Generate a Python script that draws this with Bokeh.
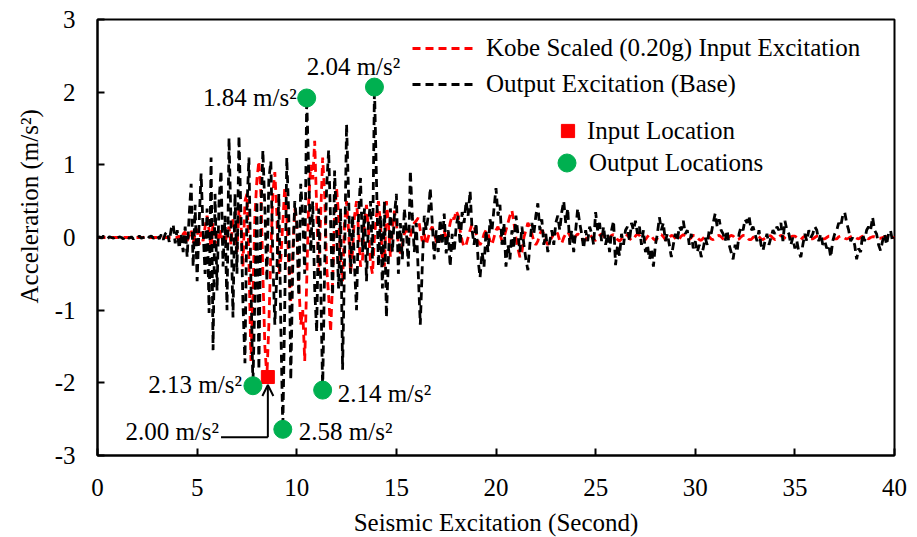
import numpy as np
from bokeh.plotting import figure
from bokeh.models import Range1d, Legend, LegendItem, Label, Arrow, OpenHead, FixedTicker, Title
from bokeh.embed import file_html
from bokeh.resources import INLINE

# ---------------- data ----------------
# time grid (seconds), 0.1 s step from 0 to 40
time_s = np.round(np.arange(401) * 0.1, 1)

# Output excitation (base), m/s^2
output_acc = [
    0.00, 0.01, -0.01, 0.02, 0.00, -0.02, 0.01, 0.00, -0.01, 0.02,
    -0.01, 0.01, 0.00, -0.02, 0.02, 0.00, -0.01, 0.01, -0.02, 0.01,
    0.00, 0.02, -0.01, 0.00, 0.01, -0.02, 0.01, 0.02, -0.01, 0.00,
    0.03, -0.02, 0.04, -0.03, 0.05, 0.08, -0.06, 0.12, 0.18, -0.08,
    0.10, -0.15, 0.05, -0.20, 0.15, -0.27, 0.30, 0.74, -0.40, 0.45,
    -0.60, 0.20, 0.88, 0.10, -0.50, 0.40, -1.04, 1.10, -1.55, 0.60,
    -0.73, 0.50, 0.92, -0.40, 0.30, -1.00, 1.37, 0.20, -1.10, 0.60,
    -0.50, 1.40, 0.30, -0.90, -1.73, 0.40, 1.10, -0.60, -2.04, -0.80,
    0.50, -1.82, 0.30, 1.20, 0.40, -0.60, 0.80, 1.05, -0.30, -1.20,
    -0.50, 0.60, -1.20, -2.64, -0.90, 1.10, 0.30, -1.96, -0.40, 0.50,
    0.20, -0.80, 0.74, 0.30, -0.50, 1.92, 0.90, -0.20, 0.50, -0.70,
    -1.30, 0.40, -0.60, -2.10, -0.40, 0.70, 1.20, 0.20, -0.80, 0.92,
    0.10, -0.70, 0.40, -1.82, -0.30, 1.56, 0.60, -0.50, 0.30, -0.40,
    -1.00, 0.30, 0.82, -0.20, 0.40, -0.60, 0.20, 0.50, -0.30, 2.07,
    0.80, -0.40, 0.30, -0.70, 0.50, -1.10, -0.30, 0.40, -0.20, 0.30,
    0.60, -0.50, 0.20, -0.30, 0.40, 0.10, -0.40, 0.92, 0.30, -0.20,
    0.20, -0.50, -1.20, -0.40, 0.30, 0.10, 0.30, 0.68, 0.20, -0.30,
    0.10, -0.20, 0.25, -0.10, 0.33, -0.22, 0.10, -0.40, 0.05, -0.20,
    0.15, 0.30, -0.10, 0.35, 0.20, 0.50, 0.30, 0.64, 0.10, -0.10,
    0.20, -0.30, -0.55, -0.20, -0.40, 0.10, -0.20, 0.25, 0.10, 0.40,
    0.68, 0.30, 0.45, -0.10, 0.20, -0.40, -0.10, -0.30, 0.10, -0.15,
    0.30, 0.05, -0.20, 0.15, -0.10, -0.30, -0.45, -0.10, 0.20, 0.05,
    0.30, 0.47, 0.10, 0.25, -0.10, 0.05, -0.20, -0.05, 0.10, -0.10,
    0.20, 0.30, 0.10, 0.35, 0.50, 0.20, 0.40, -0.10, 0.10, -0.20,
    0.10, 0.40, 0.20, 0.05, -0.15, 0.10, -0.05, 0.15, 0.05, -0.10,
    0.35, 0.10, 0.20, -0.05, 0.15, -0.10, 0.05, -0.20, 0.10, 0.23,
    -0.38, -0.10, -0.25, 0.05, -0.10, 0.10, 0.15, -0.05, 0.20, 0.10,
    0.23, 0.05, 0.15, -0.10, 0.10, -0.20, -0.10, -0.30, -0.15, -0.40,
    -0.10, 0.05, 0.28, 0.10, 0.20, -0.05, 0.05, -0.10, -0.27, -0.10,
    0.05, -0.05, 0.15, 0.10, 0.23, 0.05, 0.10, -0.10, 0.05, -0.15,
    -0.05, -0.20, -0.10, -0.27, -0.15, 0.00, -0.10, 0.10, 0.05, 0.20,
    0.33, 0.15, 0.25, 0.10, 0.05, -0.05, 0.10, -0.10, -0.20, -0.30,
    -0.10, -0.20, 0.05, 0.15, 0.10, 0.25, 0.20, 0.30, 0.10, 0.15,
    0.05, -0.05, 0.10, -0.10, -0.18, -0.05, 0.05, -0.10, 0.00, 0.10,
    0.05, 0.15, 0.10, 0.20, -0.05, 0.23, 0.10, 0.05, -0.10, 0.00,
    -0.15, -0.05, -0.20, -0.27, -0.10, 0.05, -0.05, 0.10, 0.00, 0.05,
    0.15, 0.10, -0.05, 0.05, -0.10, -0.05, -0.15, -0.10, -0.27, -0.05,
    0.05, 0.10, 0.20, 0.15, 0.30, 0.35, 0.20, 0.10, -0.05, 0.00,
    -0.10, -0.30, -0.15, -0.20, 0.05, -0.05, 0.10, 0.15, 0.10, 0.28,
    0.10, 0.05, -0.10, -0.18, -0.05, 0.05, -0.10, 0.05, 0.10, -0.05,
    0.00,
]

# Kobe scaled (0.20g) input excitation, m/s^2
input_acc = [
    0.00, 0.00, 0.00, 0.00, 0.00, 0.00, 0.00, 0.00, 0.00, 0.00,
    0.00, 0.00, 0.00, 0.00, 0.00, 0.00, 0.00, 0.00, 0.00, 0.00,
    0.00, 0.00, 0.00, 0.00, 0.00, 0.00, 0.00, 0.00, 0.00, 0.00,
    0.00, 0.00, 0.00, 0.00, 0.00, 0.00, 0.00, 0.00, 0.00, 0.00,
    0.00, 0.02, -0.03, 0.05, 0.08, -0.05, 0.03, 0.10, -0.08, 0.05,
    0.12, -0.10, 0.08, -0.05, 0.15, 0.30, 0.10, -0.15, 0.20, -0.10,
    0.05, -0.05, 0.10, -0.10, -0.08, 0.05, 0.15, -0.10, 0.25, 0.10,
    -0.20, 0.40, 0.20, -0.40, 0.50, 0.60, -0.30, -1.70, -0.80, 0.30,
    0.80, 1.05, 0.60, -0.50, -1.50, -1.92, -1.20, -0.20, 0.60, 0.90,
    0.33, -0.50, -0.30, 0.20, 0.70, 0.30, -0.40, -0.90, -0.20, 0.40,
    0.20, -0.60, -1.20, -1.00, -1.70, -0.60, 0.50, 1.00, 0.80, 1.33,
    0.40, -0.50, 0.30, 1.10, 0.60, -0.40, -0.80, -1.30, -0.60, 0.30,
    0.68, 0.30, -0.30, -0.60, 0.20, 0.50, 0.10, -0.50, -0.20, 0.30,
    0.50, 0.10, -0.40, -0.30, 0.20, 0.45, 0.10, -0.35, -0.50, 0.00,
    0.30, 0.50, 0.20, -0.30, -0.40, 0.50, 0.20, -0.27, 0.10, 0.37,
    0.20, -0.10, -0.22, -0.10, 0.05, 0.10, -0.08, 0.00, 0.15, 0.20,
    0.23, 0.27, 0.10, -0.05, 0.05, -0.10, 0.00, 0.10, 0.15, 0.05,
    -0.05, -0.10, 0.00, 0.05, 0.10, -0.05, 0.05, 0.20, 0.30, 0.25,
    0.37, 0.30, 0.10, -0.05, -0.13, -0.10, 0.00, 0.10, 0.19, 0.15,
    0.05, -0.05, -0.10, -0.05, 0.05, 0.10, 0.05, -0.05, -0.10, 0.00,
    0.10, 0.15, 0.05, -0.05, 0.00, 0.10, 0.20, 0.30, 0.37, 0.20,
    0.00, -0.15, -0.27, -0.20, 0.00, 0.10, 0.20, 0.15, 0.05, -0.05,
    -0.10, -0.05, 0.05, 0.10, 0.05, -0.05, -0.10, -0.05, 0.00, 0.05,
    0.10, 0.05, -0.05, -0.08, 0.00, 0.05, 0.08, 0.03, -0.05, -0.03,
    0.02, 0.05, 0.03, -0.02, -0.05, -0.03, 0.02, 0.04, 0.01, -0.03,
    -0.04, 0.00, 0.03, 0.05, 0.02, -0.02, -0.04, -0.01, 0.03, 0.04,
    0.01, -0.03, -0.05, -0.02, 0.02, 0.04, 0.03, -0.01, -0.04, -0.02,
    0.02, 0.05, 0.03, -0.02, -0.04, -0.03, 0.01, 0.04, 0.02, -0.02,
    -0.04, -0.01, 0.03, 0.04, 0.01, -0.03, -0.04, 0.00, 0.03, 0.02,
    -0.01, -0.04, -0.02, 0.02, 0.04, 0.02, -0.02, -0.03, 0.00, 0.03,
    0.03, 0.00, -0.03, -0.04, -0.01, 0.02, 0.04, 0.01, -0.02, -0.03,
    -0.01, 0.02, 0.03, 0.01, -0.02, -0.04, -0.02, 0.01, 0.03, 0.02,
    -0.01, -0.03, -0.02, 0.01, 0.03, 0.03, 0.00, -0.03, -0.03, 0.00,
    0.02, 0.03, 0.01, -0.02, -0.03, -0.01, 0.01, 0.03, 0.02, -0.01,
    -0.03, -0.02, 0.01, 0.03, 0.02, -0.01, -0.03, -0.02, 0.01, 0.02,
    0.02, 0.00, -0.02, -0.03, 0.00, 0.02, 0.03, 0.01, -0.02, -0.02,
    0.00, 0.02, 0.02, 0.00, -0.02, -0.02, 0.00, 0.02, 0.02, 0.00,
    -0.02, -0.02, 0.01, 0.02, 0.01, -0.01, -0.02, -0.01, 0.01, 0.02,
    0.01, -0.01, -0.02, 0.00, 0.02, 0.01, -0.01, -0.02, 0.00, 0.01,
    0.01, 0.00, -0.01, -0.01, 0.00, 0.01, 0.01, 0.00, -0.01, 0.00,
    0.00,
]

# marked peak locations
input_loc_x = [8.55]
input_loc_y = [-1.92]
input_loc_label = ["2.00 m/s²"]

output_loc_x = [10.5, 13.9, 7.8, 11.3, 9.3]
output_loc_y = [1.92, 2.07, -2.04, -2.10, -2.64]
output_loc_label = ["1.84 m/s²", "2.04 m/s²", "2.13 m/s²", "2.14 m/s²", "2.58 m/s²"]

x_ticks = [0, 5, 10, 15, 20, 25, 30, 35, 40]
y_ticks = [-3, -2, -1, 0, 1, 2, 3]

x_title = "Seismic Excitation (Second)"
y_title = "Acceleration (m/s²)"
legend_line_labels = ["Kobe Scaled (0.20g) Input Excitation", "Output Excitation (Base)"]
legend_marker_labels = ["Input Location", "Output Locations"]

# ---------------- styling ----------------
FONT = "Liberation Serif"
FS = "25px"
RED = "#FF0000"
GREEN = "#00B050"

p = figure(frame_width=797, frame_height=436, output_backend="svg",
           toolbar_location=None, x_range=Range1d(0, 40), y_range=Range1d(-3, 3),
           min_border_left=97, min_border_right=23, min_border_top=19,
           min_border_bottom=82, background_fill_color="white",
           border_fill_color="white")
p.grid.visible = False
p.outline_line_color = "black"
p.outline_line_width = 2

for ax in (p.xaxis[0], p.yaxis[0]):
    ax.axis_line_width = 2
    ax.major_tick_line_width = 2
    ax.major_tick_in = 7
    ax.major_tick_out = 0
    ax.minor_tick_line_color = None
    ax.major_label_text_font = FONT
    ax.major_label_text_font_size = FS
    ax.major_label_text_color = "black"
    ax.axis_label_text_font = FONT
    ax.axis_label_text_font_size = FS
    ax.axis_label_text_font_style = "normal"
    ax.axis_label_text_color = "black"

p.xaxis.ticker = FixedTicker(ticks=x_ticks)
p.yaxis.ticker = FixedTicker(ticks=y_ticks)
p.yaxis.major_label_overrides = {v: str(v) for v in y_ticks}
p.xaxis.major_label_standoff = 23
p.yaxis.major_label_standoff = 22
p.xaxis.axis_label = x_title
p.xaxis.axis_label_standoff = 10

r_in = p.line(time_s, input_acc, line_color=RED, line_width=2.8, line_dash="8 5")
r_out = p.line(time_s, output_acc, line_color="black", line_width=2.8, line_dash="8 5")

r_sq = p.scatter(input_loc_x, input_loc_y, marker="square", size=13,
                 fill_color=RED, line_color=RED)
r_ci = p.scatter(output_loc_x, output_loc_y, marker="circle", size=18,
                 fill_color=GREEN, line_color=GREEN)

# y-axis title, sitting above centre as in the reference
p.add_layout(Title(text=y_title, align="left", offset=152, text_font=FONT,
                   text_font_size=FS, text_font_style="normal", text_color="black",
                   standoff=18), "left")

# value labels of the output locations
lab_off = [(-10, 0, "right"), (-21, 21, "center"), (-11, 1, "right"),
           (15, -3, "left"), (16, -2, "left")]
for xv, yv, txt, (dx, dy, al) in zip(output_loc_x, output_loc_y, output_loc_label, lab_off):
    p.add_layout(Label(x=xv, y=yv, text=txt, x_offset=dx, y_offset=dy,
                       text_align=al, text_baseline="middle",
                       text_font=FONT, text_font_size=FS, text_color="black"))

# elbow arrow pointing at the input location
elbow_y = input_loc_y[0] - 0.83
text_end_x = input_loc_x[0] - 2.35
p.segment(x0=[text_end_x], y0=[elbow_y], x1=[input_loc_x[0]], y1=[elbow_y],
          line_color="black", line_width=2)
p.add_layout(Arrow(end=OpenHead(size=11, line_width=2, line_color="black"),
                   x_start=input_loc_x[0], y_start=elbow_y,
                   x_end=input_loc_x[0], y_end=input_loc_y[0] - 0.11,
                   line_width=2, line_color="black"))
p.add_layout(Label(x=text_end_x, y=elbow_y, text=input_loc_label[0], x_offset=-2, y_offset=6,
                   text_align="right", text_baseline="middle",
                   text_font=FONT, text_font_size=FS, text_color="black"))

# legends (legend markers are drawn at 0.4 x glyph box, so each marker item
# gets its own box size)
common = dict(padding=0, margin=0, border_line_color=None, background_fill_alpha=0,
              label_text_font=FONT, label_text_font_size=FS, label_text_color="black")
leg1 = Legend(items=[LegendItem(label=legend_line_labels[0], renderers=[r_in]),
                     LegendItem(label=legend_line_labels[1], renderers=[r_out])],
              location=(315, 357), glyph_width=61, glyph_height=24, label_height=24,
              label_standoff=13, spacing=8, **common)
leg2 = Legend(items=[LegendItem(label=legend_marker_labels[0], renderers=[r_sq])],
              location=(454, 308), glyph_width=33, glyph_height=33, label_height=22,
              label_standoff=3, **common)
leg3 = Legend(items=[LegendItem(label=legend_marker_labels[1], renderers=[r_ci])],
              location=(447, 270), glyph_width=45, glyph_height=45, label_height=22,
              label_standoff=-4, **common)
p.add_layout(leg1)
p.add_layout(leg2)
p.add_layout(leg3)

open("out.html", "w").write(file_html(p, INLINE))
